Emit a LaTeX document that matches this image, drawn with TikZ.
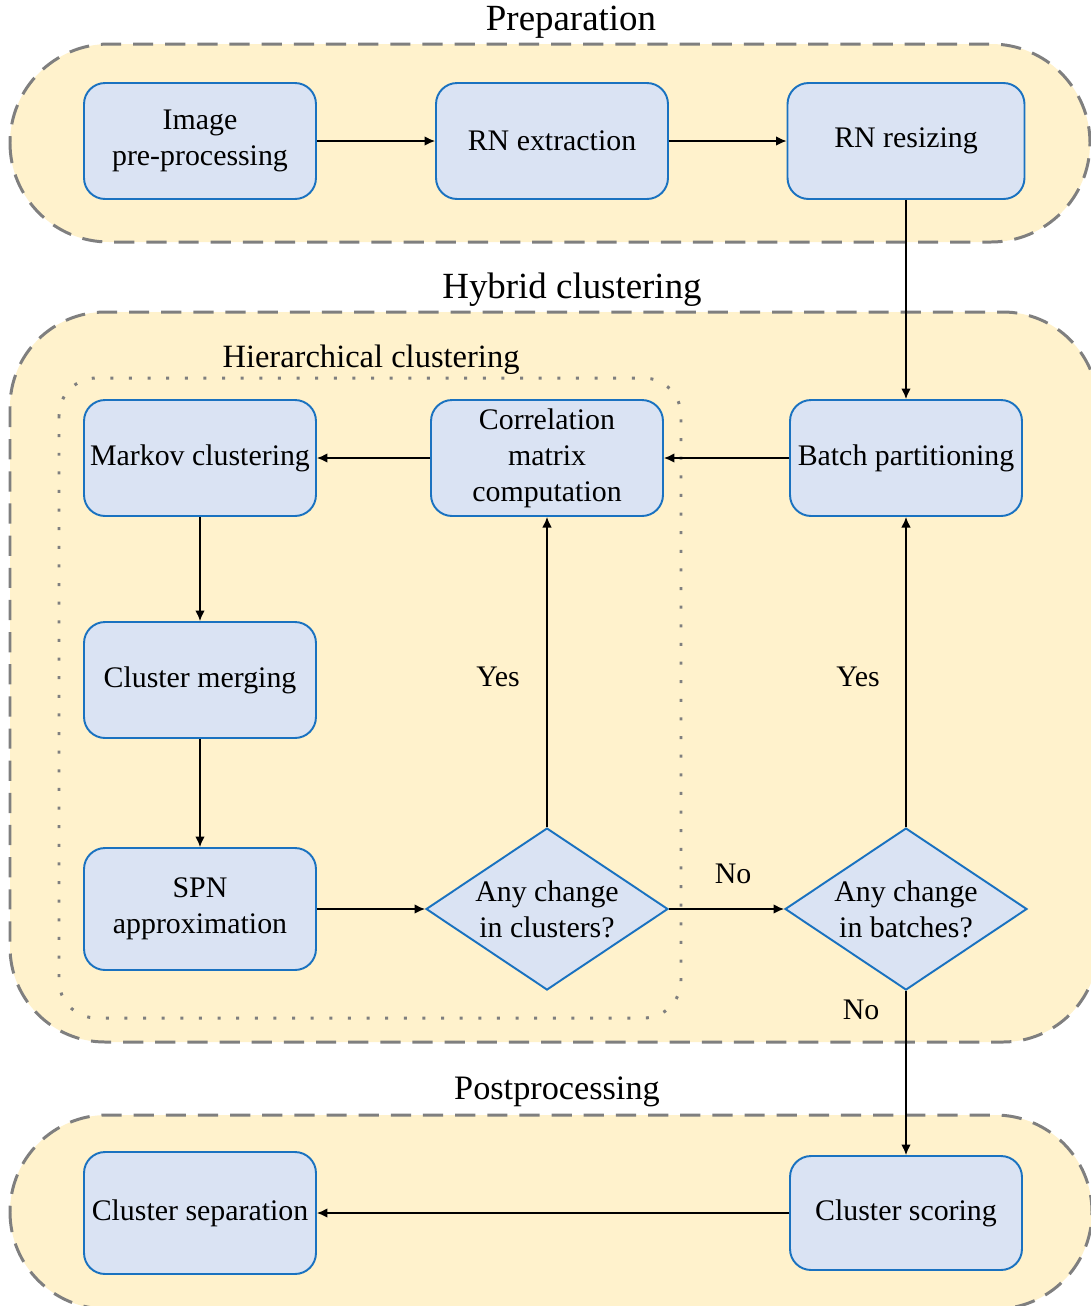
\documentclass[tikz,border=0pt]{standalone}
\usepackage{fontspec}
\setmainfont{Liberation Serif}
\usetikzlibrary{shapes.geometric,arrows.meta}

\definecolor{boxfill}{HTML}{DAE3F3}
\definecolor{boxline}{HTML}{1A72C0}
\definecolor{stagefill}{HTML}{FFF2CC}
\definecolor{stageline}{HTML}{7F7F7F}

\tikzset{
  stagebox/.style={fill=stagefill, draw=stageline, line width=1.7pt,
    dash pattern=on 11.5pt off 6.8pt},
  groupbox/.style={draw=stageline, line width=1.7pt,
    dash pattern=on 1.7pt off 8.9pt, rounded corners=0.75cm},
  stepbox/.style={draw=boxline, fill=boxfill, line width=1.1pt,
    rounded corners=0.42cm, minimum width=4.64cm, minimum height=2.32cm,
    align=center, inner sep=2pt, font=\fontsize{17}{20.5}\selectfont},
  decision/.style={diamond, aspect=1.5, draw=boxline, fill=boxfill,
    line width=1.1pt, minimum width=4.84cm, minimum height=3.24cm,
    inner sep=0pt, align=center,
    font=\fontsize{17}{20.5}\selectfont},
  stagetitle/.style={font=\fontsize{21}{24}\selectfont},
  edgelabel/.style={font=\fontsize{17}{20}\selectfont},
  arr/.style={line width=0.9pt, -{Latex[length=6pt,width=5.5pt]}}
}

\begin{document}
\begin{tikzpicture}[x=0.02cm, y=-0.02cm]
\useasboundingbox (0,0) rectangle (1091,1306);

% stage backgrounds
\begin{scope}
  \clip (0,0) rectangle (1091,1306);
  \draw[stagebox, rounded corners=1.98cm] (10,44) rectangle (1090,242);
  \draw[stagebox, rounded corners=1.9cm] (10,312) rectangle (1098,1042);
  \draw[stagebox, rounded corners=1.94cm] (10,1115) rectangle (1092,1309);
\end{scope}
\draw[groupbox] (59,378) rectangle (681,1018);

% stage titles
\node[stagetitle] (tprep) at (571,22) {Preparation};
\node[stagetitle] (thyb) at (572,290) {Hybrid clustering};
\node[font=\fontsize{18.5}{22}\selectfont] (thier) at (371,360) {Hierarchical clustering};
\node[font=\fontsize{19.5}{23}\selectfont] (tpost) at (557,1092) {Postprocessing};

% preparation steps
\node[stepbox] (pre) at (200,141) {Image\\pre-processing};
\node[stepbox] (ext) at (552,141) {RN extraction};
\node[stepbox, minimum width=4.74cm] (res) at (906,141) {RN resizing};

% hybrid clustering steps
\node[stepbox] (markov) at (200,458) {Markov clustering};
\node[stepbox] (corr) at (547,458) {Correlation\\matrix\\computation};
\node[stepbox] (batch) at (906,458) {Batch partitioning};
\node[stepbox] (merge) at (200,680) {Cluster merging};
\node[stepbox, minimum height=2.44cm] (spn) at (200,909) {SPN\\approximation};
\node[decision] (d1) at (547,909) {Any change\\in clusters?};
\node[decision] (d2) at (906,909) {Any change\\in batches?};

% postprocessing steps
\node[stepbox, minimum height=2.44cm] (sep) at (200,1213) {Cluster separation};
\node[stepbox, minimum height=2.28cm] (score) at (906,1213) {Cluster scoring};

% connectors
\draw[arr] (pre) -- (ext);
\draw[arr] (ext) -- (res);
\draw[arr] (res) -- (batch);
\draw[arr] (batch) -- (corr);
\draw[arr] (corr) -- (markov);
\draw[arr] (markov) -- (merge);
\draw[arr] (merge) -- (spn);
\draw[arr] (spn) -- (d1);
\draw[arr] (d1) -- (corr);
\draw[arr] (d1) -- (d2);
\draw[arr] (d2) -- (batch);
\draw[arr] (d2) -- (score);
\draw[arr] (score) -- (sep);

% branch labels
\node[edgelabel] (yes1) at (498,677) {Yes};
\node[edgelabel] (yes2) at (858,677) {Yes};
\node[edgelabel] (no1) at (733,874) {No};
\node[edgelabel] (no2) at (861,1010) {No};
\end{tikzpicture}
\end{document}
